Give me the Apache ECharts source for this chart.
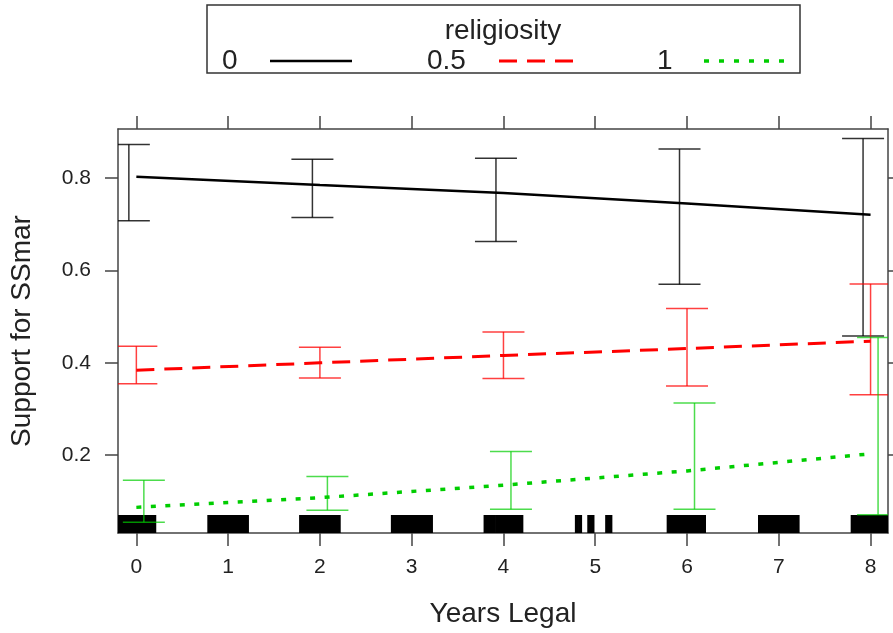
<!DOCTYPE html>
<html>
<head>
<meta charset="utf-8">
<title>religiosity effect plot</title>
<script src="https://cdn.jsdelivr.net/npm/echarts@6/dist/echarts.min.js"></script>
<style>
  html, body { margin: 0; padding: 0; background: #fff; }
  #main { width: 893px; height: 633px; }
</style>
</head>
<body>
<div id="main"></div>
<script>
// fitted values and confidence limits, one set per religiosity level
var years = [0, 2, 4, 6, 8];
var groupNames = ['0', '0.5', '1'];

var fit0 = [0.803, 0.785, 0.768, 0.745, 0.721];
var lower0 = [0.708, 0.715, 0.663, 0.570, 0.458];
var upper0 = [0.873, 0.841, 0.843, 0.863, 0.886];

var fit05 = [0.384, 0.400, 0.416, 0.431, 0.447];
var lower05 = [0.355, 0.367, 0.366, 0.350, 0.331];
var upper05 = [0.436, 0.434, 0.467, 0.518, 0.571];

var fit1 = [0.087, 0.108, 0.135, 0.166, 0.203];
var lower1 = [0.055, 0.081, 0.083, 0.083, 0.071];
var upper1 = [0.146, 0.154, 0.208, 0.313, 0.455];

// rug of observed (jittered) years legal
var rugX = [
  -0.195, -0.165, -0.135, -0.105, -0.075, -0.045, -0.015, 0.015, 0.045, 0.075, 0.105, 0.135, 0.165, 0.195,
  0.795, 0.825, 0.855, 0.885, 0.915, 0.945, 0.975, 1.005, 1.035, 1.065, 1.095, 1.125, 1.155, 1.185, 1.205,
  1.795, 1.825, 1.855, 1.885, 1.915, 1.945, 1.975, 2.005, 2.035, 2.065, 2.095, 2.125, 2.155, 2.185, 2.205,
  2.795, 2.825, 2.855, 2.885, 2.915, 2.945, 2.975, 3.005, 3.035, 3.065, 3.095, 3.125, 3.155, 3.185, 3.21,
  3.805, 3.835, 3.865, 3.89, 3.93, 3.96, 3.99, 4.02, 4.05, 4.08, 4.11, 4.14, 4.17, 4.195,
  4.80, 4.835, 4.935, 4.97, 5.13, 5.165,
  5.80, 5.83, 5.86, 5.89, 5.92, 5.95, 5.98, 6.01, 6.04, 6.07, 6.10, 6.13, 6.16, 6.185,
  6.795, 6.825, 6.855, 6.885, 6.915, 6.945, 6.975, 7.005, 7.035, 7.065, 7.095, 7.125, 7.155, 7.185, 7.205,
  7.805, 7.835, 7.865, 7.895, 7.925, 7.955, 7.985, 8.015, 8.045, 8.075, 8.105, 8.135, 8.165, 8.19
];

var xTicks = [0, 1, 2, 3, 4, 5, 6, 7, 8];
var yTicks = [0.2, 0.4, 0.6, 0.8];

var FONT = 'Liberation Sans, Arial, Helvetica, sans-serif';
var AXIS_COLOR = '#444';

function pairs(xs, ys) {
  return xs.map(function (x, i) { return [x, ys[i]]; });
}
function triples(xs, lo, hi) {
  return xs.map(function (x, i) { return [x, lo[i], hi[i]]; });
}

function errorBars(data, color, dx) {
  return {
    type: 'custom',
    clip: true,
    z: 4,
    silent: true,
    encode: { x: 0, y: [1, 2] },
    data: data,
    renderItem: function (params, api) {
      var lo = api.coord([api.value(0), api.value(1)]);
      var hi = api.coord([api.value(0), api.value(2)]);
      var x = lo[0] + dx;
      var half = 21;
      var st = { stroke: color, lineWidth: 1.5, fill: null };
      return {
        type: 'group',
        children: [
          { type: 'line', shape: { x1: x, y1: lo[1], x2: x, y2: hi[1] }, style: st },
          { type: 'line', shape: { x1: x - half, y1: lo[1], x2: x + half, y2: lo[1] }, style: st },
          { type: 'line', shape: { x1: x - half, y1: hi[1], x2: x + half, y2: hi[1] }, style: st }
        ]
      };
    }
  };
}

function fitLine(name, data, color, width, dash) {
  return {
    name: name,
    type: 'line',
    data: data,
    showSymbol: false,
    symbol: 'none',
    clip: true,
    z: 5,
    silent: true,
    lineStyle: { color: color, width: width, type: dash, cap: 'butt' }
  };
}

var rugSeries = {
  type: 'custom',
  clip: true,
  z: 2,
  silent: true,
  encode: { x: 0, y: 1 },
  data: rugX.map(function (v) { return [v, 0.05]; }),
  renderItem: function (params, api) {
    var x = api.coord([api.value(0), 0.05])[0];
    var yb = params.coordSys.y + params.coordSys.height;
    return {
      type: 'line',
      shape: { x1: x, y1: yb, x2: x, y2: yb - 18 },
      style: { stroke: '#000', lineWidth: 4 }
    };
  }
};

var tickCommon = { show: true, inside: false, length: 13, lineStyle: { color: AXIS_COLOR, width: 1.5 } };
var lineCommon = { show: true, onZero: false, lineStyle: { color: AXIS_COLOR, width: 1.5 } };

var option = {
  animation: false,
  backgroundColor: '#fff',
  grid: { left: 118, top: 129, width: 770, height: 405, containLabel: false },
  xAxis: [
    {
      type: 'value', position: 'bottom', min: -0.2, max: 8.19,
      axisLine: lineCommon,
      axisTick: Object.assign({ customValues: xTicks }, tickCommon),
      axisLabel: { customValues: xTicks, fontSize: 21, color: '#222', fontFamily: FONT, margin: 24 },
      splitLine: { show: false },
      name: 'Years Legal', nameLocation: 'middle', nameGap: 67,
      nameTextStyle: { fontSize: 28, color: '#222', fontFamily: FONT }
    },
    {
      type: 'value', position: 'top', min: -0.2, max: 8.19,
      axisLine: lineCommon,
      axisTick: Object.assign({ customValues: xTicks }, tickCommon),
      axisLabel: { show: false },
      splitLine: { show: false }
    }
  ],
  yAxis: [
    {
      type: 'value', position: 'left', min: 0.0315, max: 0.9065,
      axisLine: lineCommon,
      axisTick: Object.assign({ customValues: yTicks }, tickCommon),
      axisLabel: { customValues: yTicks, fontSize: 21, color: '#222', fontFamily: FONT, margin: 27,
        formatter: function (v) { return v.toFixed(1); } },
      splitLine: { show: false },
      name: 'Support for SSmar', nameLocation: 'middle', nameGap: 82,
      nameTextStyle: { fontSize: 28, color: '#222', fontFamily: FONT }
    },
    {
      type: 'value', position: 'right', min: 0.0315, max: 0.9065,
      axisLine: lineCommon,
      axisTick: Object.assign({ customValues: yTicks }, tickCommon),
      axisLabel: { show: false },
      splitLine: { show: false }
    }
  ],
  series: [
    rugSeries,
    errorBars(triples(years, lower0, upper0), 'rgba(0,0,0,0.8)', -7.5),
    errorBars(triples(years, lower05, upper05), 'rgba(255,0,0,0.75)', 0),
    errorBars(triples(years, lower1, upper1), 'rgba(0,205,0,0.7)', 7.5),
    fitLine(groupNames[0], pairs(years, fit0), '#000', 2.5, 'solid'),
    fitLine(groupNames[1], pairs(years, fit05), '#ff0000', 3, [18, 10]),
    fitLine(groupNames[2], pairs(years, fit1), '#00cd00', 3.5, [5, 9.5])
  ],
  graphic: [
    { type: 'rect', shape: { x: 207, y: 5, width: 593, height: 68 },
      style: { fill: '#fff', stroke: '#333', lineWidth: 1.5 } },
    { type: 'text', x: 503, y: 31,
      style: { text: 'religiosity', fontSize: 28, fontFamily: FONT, fill: '#222', align: 'center', verticalAlign: 'middle' } },
    { type: 'text', x: 222, y: 61,
      style: { text: groupNames[0], fontSize: 28, fontFamily: FONT, fill: '#222', align: 'left', verticalAlign: 'middle' } },
    { type: 'line', shape: { x1: 270, y1: 61, x2: 352, y2: 61 },
      style: { stroke: '#000', lineWidth: 2.5 } },
    { type: 'text', x: 427, y: 61,
      style: { text: groupNames[1], fontSize: 28, fontFamily: FONT, fill: '#222', align: 'left', verticalAlign: 'middle' } },
    { type: 'line', shape: { x1: 499, y1: 61, x2: 575, y2: 61 },
      style: { stroke: '#ff0000', lineWidth: 3, lineDash: [18, 10] } },
    { type: 'text', x: 657, y: 61,
      style: { text: groupNames[2], fontSize: 28, fontFamily: FONT, fill: '#222', align: 'left', verticalAlign: 'middle' } },
    { type: 'line', shape: { x1: 704, y1: 61, x2: 784, y2: 61 },
      style: { stroke: '#00cd00', lineWidth: 3.5, lineDash: [5, 10] } }
  ]
};

var myChart = echarts.init(document.getElementById('main'));
myChart.setOption(option);
</script>
</body>
</html>
